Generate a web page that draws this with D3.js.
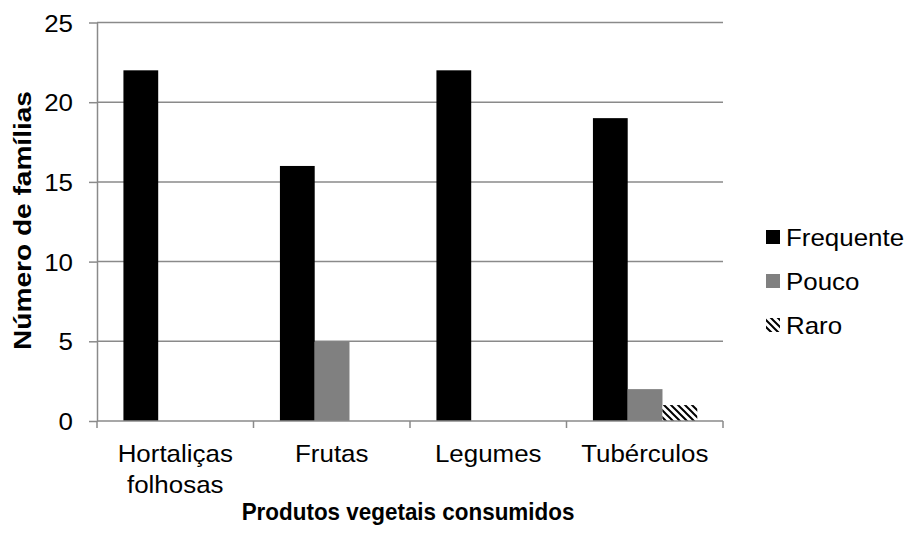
<!DOCTYPE html>
<html>
<head>
<meta charset="utf-8">
<script src="https://cdn.jsdelivr.net/npm/d3@7"></script>
<style>
  html, body { margin: 0; padding: 0; background: #fff; }
  svg { display: block; }
  text { font-family: Arial, "Liberation Sans", sans-serif; fill: #000; }
</style>
</head>
<body>
<script>
// Categories (line breaks marked with \n)
const categories = ["Hortaliças\nfolhosas", "Frutas", "Legumes", "Tubérculos"];
const seriesNames = ["Frequente", "Pouco", "Raro"];
const frequente = [22, 16, 22, 19];
const pouco = [0, 5, 0, 2];
const raro = [0, 0, 0, 1];
const yTicks = [0, 5, 10, 15, 20, 25];

const W = 909, H = 536;
const plotLeft = 97, plotRight = 723, plotTop = 22.5, plotBottom = 421;
const FS = 24, SX = 1.08;
const gridColor = "#8a8a8a";

const svg = d3.select("body").append("svg").attr("width", W).attr("height", H);

// Hatch pattern for the "Raro" series
const defs = svg.append("defs");
const pat = defs.append("pattern")
  .attr("id", "hatch").attr("patternUnits", "userSpaceOnUse")
  .attr("width", 7).attr("height", 7);
pat.append("rect").attr("width", 7).attr("height", 7).attr("fill", "#fff");
pat.append("path")
  .attr("d", "M-1,-1 L8,8 M-8,-1 L1,8 M6,-1 L15,8")
  .attr("stroke", "#000").attr("stroke-width", 2);

const fills = ["#000000", "#808080", "url(#hatch)"];
const values = [frequente, pouco, raro];

const x0 = d3.scaleBand().domain(categories).range([plotLeft, plotRight]).padding(0);
const bw = x0.bandwidth();
const barW = bw / 4.5;
const x1 = d3.scaleBand().domain(seriesNames)
  .range([barW * 0.76, barW * 0.76 + barW * 3]).padding(0);
const y = d3.scaleLinear().domain([0, 25]).range([plotBottom, plotTop]);

// Horizontal gridlines
svg.append("g").selectAll("line").data(yTicks.filter(d => d > 0)).join("line")
  .attr("x1", plotLeft).attr("x2", plotRight)
  .attr("y1", d => y(d)).attr("y2", d => y(d))
  .attr("stroke", gridColor).attr("stroke-width", 1.5);

// Bars
seriesNames.forEach((s, si) => {
  svg.append("g").selectAll("rect").data(categories).join("rect")
    .attr("x", c => x0(c) + x1(s))
    .attr("width", x1.bandwidth())
    .attr("y", (c, i) => y(values[si][i]))
    .attr("height", (c, i) => y(0) - y(values[si][i]))
    .attr("fill", fills[si]);
});

// Y axis
const yAxis = d3.axisLeft(y).tickValues(yTicks).tickSize(8).tickSizeOuter(0).tickFormat(d3.format("d"));
const gy = svg.append("g").attr("transform", `translate(${plotLeft},0)`).call(yAxis);
gy.select(".domain").attr("stroke", gridColor).attr("stroke-width", 1.5);
gy.selectAll(".tick line").attr("stroke", gridColor).attr("stroke-width", 1.5);
gy.selectAll(".tick text").remove();
gy.selectAll(".tick").append("g")
  .attr("transform", "translate(-24,8.5)")
  .append("text")
  .attr("transform", `scale(${SX},1)`)
  .attr("text-anchor", "end")
  .style("font-size", FS + "px")
  .text(d => d);

// X axis with ticks at category boundaries
const gx = svg.append("g").attr("transform", `translate(0,${plotBottom})`);
gx.append("line").attr("x1", plotLeft).attr("x2", plotRight)
  .attr("stroke", gridColor).attr("stroke-width", 1.5);
const bounds = categories.map(c => x0(c)).concat([plotRight]);
gx.selectAll("line.tk").data(bounds).join("line").attr("class", "tk")
  .attr("x1", d => d).attr("x2", d => d).attr("y1", 0).attr("y2", 7)
  .attr("stroke", gridColor).attr("stroke-width", 1.5);

const catLabels = svg.append("g").selectAll("g").data(categories).join("g")
  .attr("transform", c => `translate(${x0(c) + bw / 2},462)`);
catLabels.each(function(c) {
  const lines = c.split("\n");
  lines.forEach((ln, i) => {
    d3.select(this).append("text")
      .attr("transform", `translate(0,${i * 30.5}) scale(${SX},1)`)
      .attr("text-anchor", "middle")
      .style("font-size", FS + "px")
      .text(ln);
  });
});

// Axis titles
svg.append("g").attr("transform", `translate(${(plotLeft + plotRight) / 2 - 2},520)`)
  .append("text").attr("transform", "scale(0.935,1)")
  .attr("text-anchor", "middle").style("font-size", FS + "px").style("font-weight", "bold")
  .text("Produtos vegetais consumidos");

svg.append("g").attr("transform", `translate(31,220.5) rotate(-90)`)
  .append("text").attr("transform", "scale(1.17,1)")
  .attr("text-anchor", "middle").style("font-size", FS + "px").style("font-weight", "bold")
  .text("Número de famílias");

// Legend
const legend = svg.append("g").selectAll("g").data(seriesNames).join("g")
  .attr("transform", (d, i) => `translate(766,${246 + i * 44})`);
legend.append("rect")
  .attr("x", 0).attr("y", -16).attr("width", 14).attr("height", 14)
  .attr("fill", (d, i) => fills[i]);
legend.append("g").attr("transform", "translate(20,0)")
  .append("text").attr("transform", `scale(${SX},1)`)
  .style("font-size", FS + "px")
  .text(d => d);
</script>
</body>
</html>
